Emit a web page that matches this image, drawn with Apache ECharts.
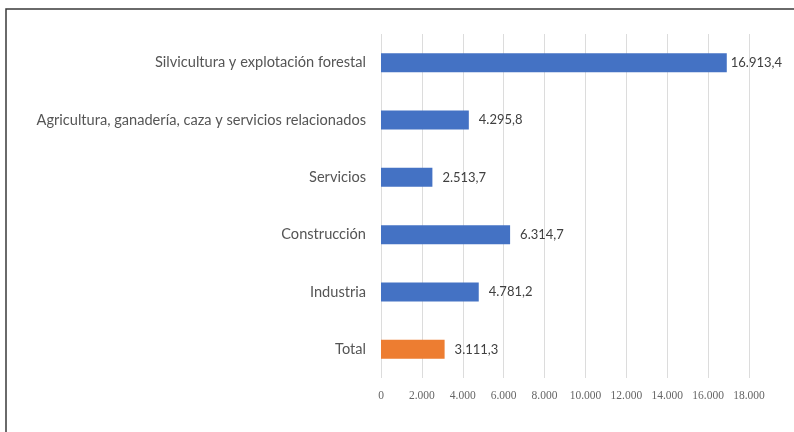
<!DOCTYPE html>
<html>
<head>
<meta charset="utf-8">
<script src="https://cdn.jsdelivr.net/npm/echarts@6/dist/echarts.min.js"></script>
<style>
  html, body { margin: 0; padding: 0; background: #ffffff; }
  #chart { width: 794px; height: 432px; }
</style>
</head>
<body>
<div id="chart"></div>
<script>
// Sectores (de arriba hacia abajo) y sus valores
const categories = [
  'Silvicultura y explotación forestal',
  'Agricultura, ganadería, caza y servicios relacionados',
  'Servicios',
  'Construcción',
  'Industria',
  'Total'
];
const values = [16913.4, 4295.8, 2513.7, 6314.7, 4781.2, 3111.3];
const highlighted = ['Total'];

const axisMax = 18000;
const axisStep = 2000;

// Formato numérico español: punto de miles, coma decimal
function fmt(v, decimals) {
  const parts = v.toFixed(decimals).split('.');
  parts[0] = parts[0].replace(/\B(?=(\d{3})+(?!\d))/g, '.');
  return parts.length > 1 ? parts[0] + ',' + parts[1] : parts[0];
}

const blue = '#4472C4';
const orange = '#ED7D31';

const seriesData = values.map((v, i) => {
  const isHigh = highlighted.includes(categories[i]);
  const item = {
    value: v,
    itemStyle: { color: isHigh ? orange : blue }
  };
  if (v / axisMax > 0.9) {
    item.label = { distance: 4 };
  }
  return item;
});

const chart = echarts.init(document.getElementById('chart'));
chart.setOption({
  animation: false,
  backgroundColor: '#ffffff',
  graphic: [{
    type: 'rect',
    shape: { x: 6, y: 9, width: 820, height: 460 },
    style: { fill: 'none', stroke: '#3a3a3a', lineWidth: 1.5 },
    silent: true
  }],
  grid: { left: 381, right: 45, top: 34, height: 344, containLabel: false },
  xAxis: {
    type: 'value',
    min: 0,
    max: axisMax,
    interval: axisStep,
    axisLine: { show: false },
    axisTick: { show: false },
    splitLine: { show: true, lineStyle: { color: '#dcdcdc', width: 1 } },
    axisLabel: {
      color: '#666666',
      fontFamily: 'Liberation Serif',
      fontSize: 11.5,
      margin: 12,
      formatter: v => fmt(v, 0)
    }
  },
  yAxis: {
    type: 'category',
    data: categories,
    inverse: true,
    axisLine: { show: false },
    axisTick: { show: false },
    axisLabel: {
      color: '#555555',
      fontFamily: 'Lato',
      fontSize: 14.6,
      margin: 15
    }
  },
  series: [{
    type: 'bar',
    data: seriesData,
    barWidth: 19,
    label: {
      show: true,
      position: 'right',
      distance: 10,
      color: '#404040',
      fontFamily: 'Lato',
      fontSize: 13,
      formatter: p => fmt(p.value, 1)
    }
  }]
});
</script>
</body>
</html>
